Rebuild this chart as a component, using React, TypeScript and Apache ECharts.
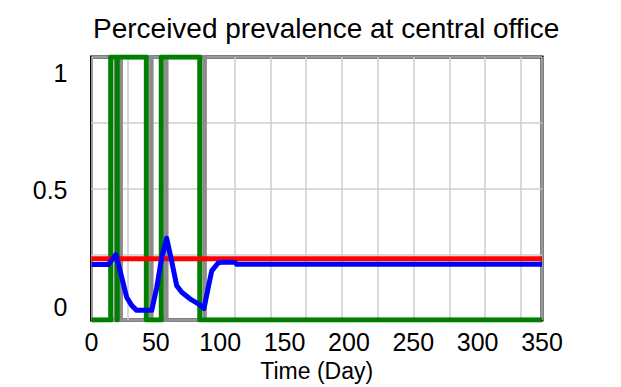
import React, { useEffect, useRef } from "react";
import * as echarts from "echarts";

const titleText = "Perceived prevalence at central office";
const xAxisTitle = "Time (Day)";

const xTickValues = [0, 50, 100, 150, 200, 250, 300, 350];
const yTickValues = [0, 0.5, 1];
const yTickLabels = ["0", "0.5", "1"];

const redDays = [0, 350];
const redValues = [0.233, 0.233];

const blueDays = [0, 13.1, 19.0, 23.5, 27.3, 31.2, 35.1, 46.8, 50.7, 54.5, 58.4, 62.3, 66.2, 70.1, 76.5, 83.0, 87.4, 90.7, 93.4, 98.5, 101.2, 111.5, 112.8, 350];
const blueValues = [0.211, 0.211, 0.249, 0.162, 0.087, 0.056, 0.037, 0.037, 0.124, 0.236, 0.311, 0.224, 0.131, 0.106, 0.081, 0.062, 0.044, 0.124, 0.187, 0.218, 0.22, 0.22, 0.212, 0.212];

const greenDays = [0, 14.9, 14.9, 20.0, 20.0, 20.0, 42.6, 42.6, 54.2, 54.2, 84.1, 84.1, 350];
const greenValues = [0, 0, 1, 1, 0, 1, 1, 0, 0, 1, 1, 0, 0];

const grayDays = [0, 18.9, 18.9, 22.7, 22.7, 22.7, 46.5, 46.5, 58.1, 58.1, 87.9, 87.9, 350];
const grayValues = [0, 0, 1, 1, 0, 1, 1, 0, 0, 1, 1, 0, 0];

const FONT = "'Liberation Sans', Arial, sans-serif";

function pairs(xs: number[], ys: number[]) {
  return xs.map((x, i) => [x, ys[i]]);
}

export default function App() {
  const ref = useRef<HTMLDivElement>(null);
  useEffect(() => {
    if (!ref.current) return;
    const chart = echarts.init(ref.current, null, { renderer: "svg" });
    const lineSeries = (data: number[][], color: string, width: number) => ({
      type: "line",
      data,
      showSymbol: false,
      symbol: "none",
      xAxisIndex: 0,
      yAxisIndex: 0,
      lineStyle: { color, width, join: "round", cap: "butt" },
      silent: true,
    });
    chart.setOption({
      animation: false,
      backgroundColor: "#ffffff",
      title: {
        text: titleText,
        left: 88,
        top: 9,
        textStyle: { fontFamily: FONT, fontSize: 28, fontWeight: "normal", color: "#000" },
      },
      grid: {
        left: 91.5,
        right: 79,
        top: 57,
        bottom: 62,
        show: true,
        borderColor: "#000",
        borderWidth: 3,
        containLabel: false,
      },
      xAxis: [
        {
          type: "value",
          min: 0,
          max: 350,
          interval: 50,
          position: "bottom",
          axisLine: { show: false },
          axisTick: { show: false },
          splitLine: { show: false },
          axisLabel: {
            show: true,
            margin: 9,
            fontFamily: FONT,
            fontSize: 25,
            color: "#000",
            customValues: xTickValues,
          },
          name: xAxisTitle,
          nameLocation: "middle",
          nameGap: 38.5,
          nameTextStyle: { fontFamily: FONT, fontSize: 23, color: "#000" },
        },
        {
          type: "value",
          min: 0,
          max: 350,
          interval: 27.8,
          position: "bottom",
          axisLine: { show: false },
          axisTick: { show: false },
          axisLabel: { show: false },
          splitLine: { show: true, lineStyle: { color: "#cccccc", width: 1.5 } },
        },
      ],
      yAxis: [
        {
          type: "value",
          min: 0,
          max: 1,
          interval: 0.25,
          position: "left",
          axisLine: { show: false },
          axisTick: { show: false },
          axisLabel: { show: false },
          splitLine: { show: true, lineStyle: { color: "#cccccc", width: 1.5 } },
        },
        {
          type: "value",
          min: -0.05655,
          max: 1.0662,
          position: "left",
          axisLine: { show: false },
          axisTick: { show: false },
          splitLine: { show: false },
          axisLabel: {
            show: true,
            margin: 24,
            fontFamily: FONT,
            fontSize: 25,
            color: "#000",
            customValues: yTickValues,
            formatter: (v: number) => {
              const i = yTickValues.findIndex((t) => Math.abs(t - v) < 1e-6);
              return i >= 0 ? yTickLabels[i] : "";
            },
          },
        },
      ],
      series: [
        lineSeries(pairs(grayDays, grayValues), "#8c8c8c", 4.5),
        lineSeries(pairs(greenDays, greenValues), "#008000", 5),
        lineSeries(pairs(redDays, redValues), "#ff0000", 5),
        lineSeries(pairs(blueDays, blueValues), "#0000ff", 5),
      ],
    });
    return () => chart.dispose();
  }, []);
  return <div ref={ref} style={{ width: 621, height: 387, position: "absolute", left: 0, top: 0 }} />;
}
